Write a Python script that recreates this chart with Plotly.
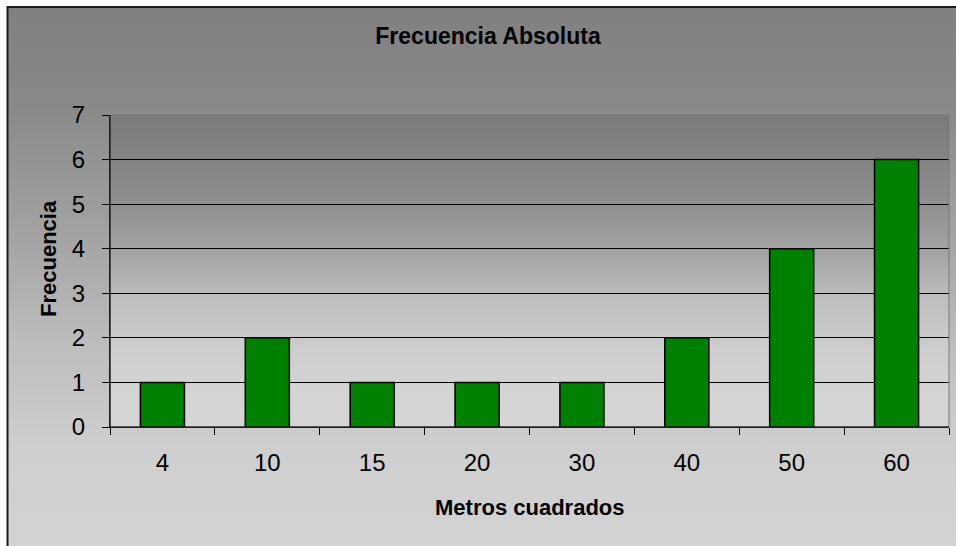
import base64
import plotly.graph_objects as go

# Data
metros = ["4", "10", "15", "20", "30", "40", "50", "60"]
frecuencia = [1, 2, 1, 1, 1, 2, 4, 6]
y_ticks = [0, 1, 2, 3, 4, 5, 6, 7]

FONT = "Liberation Sans, Arial, sans-serif"

# Figure geometry (pixels)
W, H = 956, 546
PL, PR, PT, PB = 110, 949, 115, 427   # plot area edges
PW, PH = PR - PL, PB - PT


def px_x(px):
    return (px - PL) / PW


def px_y(py):
    return (PB - py) / PH


def gradient_uri(stops):
    stop_xml = "".join(
        f'<stop offset="{o}" stop-color="{c}"/>' for o, c in stops
    )
    svg = (
        '<svg xmlns="http://www.w3.org/2000/svg" width="100" height="100" '
        'preserveAspectRatio="none"><defs>'
        f'<linearGradient id="g" x1="0" y1="0" x2="0" y2="1">{stop_xml}</linearGradient>'
        '</defs><rect width="100" height="100" fill="url(#g)"/></svg>'
    )
    return "data:image/svg+xml;base64," + base64.b64encode(svg.encode()).decode()


chart_bg = gradient_uri([
    (0.0, "#808080"), (0.17, "#898989"), (0.37, "#a1a1a1"),
    (0.56, "#bcbcbc"), (0.75, "#cfcfcf"), (1.0, "#d5d5d5"),
])
plot_bg = gradient_uri([
    (0.0, "#7b7b7b"), (0.14, "#848484"), (0.28, "#8f8f8f"),
    (0.43, "#a2a2a2"), (0.57, "#bbbbbb"), (0.71, "#cbcbcb"),
    (0.86, "#d3d3d3"), (1.0, "#d5d5d5"),
])

fig = go.Figure(
    go.Bar(
        x=metros,
        y=frecuencia,
        marker=dict(color="#008000", line=dict(color="#000000", width=1.5)),
        hoverinfo="x+y",
    )
)

fig.update_layout(
    width=W,
    height=H,
    margin=dict(l=PL, r=W - PR, t=PT, b=H - PB, pad=0),
    paper_bgcolor="#ffffff",
    plot_bgcolor="rgba(0,0,0,0)",
    bargap=0.58,
    showlegend=False,
    font=dict(family=FONT, color="#000000", size=24),
    title=dict(
        text="<b>Frecuencia Absoluta</b>",
        font=dict(family=FONT, size=23, color="#000000"),
        x=488 / W, xanchor="center", xref="container",
        y=1 - 36 / H, yanchor="middle", yref="container",
    ),
    xaxis=dict(
        type="category",
        showline=True, linecolor="#000000", linewidth=1,
        ticks="outside", tickson="boundaries", ticklen=7,
        tickcolor="#000000", tickwidth=1,
        tickfont=dict(family=FONT, size=24, color="#000000"),
        ticklabelstandoff=14,
        showgrid=False, zeroline=False,
    ),
    yaxis=dict(
        range=[0, 7], tickvals=y_ticks,
        showline=True, linecolor="#000000", linewidth=1,
        ticks="outside", ticklen=7, tickcolor="#000000", tickwidth=1,
        tickfont=dict(family=FONT, size=24, color="#000000"),
        ticklabelstandoff=12,
        showgrid=True, gridcolor="#000000", gridwidth=1,
        zeroline=False,
    ),
    images=[
        dict(source=chart_bg, xref="paper", yref="paper",
             x=px_x(8), y=px_y(7), sizex=(1000 - 8) / PW, sizey=(600 - 7) / PH,
             xanchor="left", yanchor="top", sizing="stretch", layer="below"),
        dict(source=plot_bg, xref="paper", yref="paper",
             x=0, y=1, sizex=1, sizey=1,
             xanchor="left", yanchor="top", sizing="stretch", layer="below"),
    ],
    shapes=[
        # chart area border (right and bottom edges run past the page)
        dict(type="rect", xref="paper", yref="paper",
             x0=px_x(7.5), x1=px_x(1000), y0=px_y(7), y1=px_y(600),
             line=dict(color="#1a1a1a", width=2), fillcolor="rgba(0,0,0,0)",
             layer="above"),
        # plot area border
        dict(type="rect", xref="paper", yref="paper",
             x0=0, x1=1, y0=0, y1=1,
             line=dict(color="#7a7a7a", width=1), fillcolor="rgba(0,0,0,0)",
             layer="above"),
        # axis lines redrawn over the plot-area border
        dict(type="line", xref="paper", yref="paper", x0=0, x1=0, y0=0, y1=1,
             line=dict(color="#000000", width=1), layer="above"),
        dict(type="line", xref="paper", yref="paper", x0=0, x1=1, y0=0, y1=0,
             line=dict(color="#000000", width=1), layer="above"),
    ],
    annotations=[
        dict(text="<b>Metros cuadrados</b>", xref="paper", yref="paper",
             x=0.5, y=px_y(507), xanchor="center", yanchor="middle",
             showarrow=False, font=dict(family=FONT, size=22, color="#000000")),
        dict(text="<b>Frecuencia</b>", xref="paper", yref="paper",
             x=px_x(48), y=px_y(259), xanchor="center", yanchor="middle",
             textangle=-90, showarrow=False,
             font=dict(family=FONT, size=22, color="#000000")),
    ],
)

fig.write_html("out.html")
